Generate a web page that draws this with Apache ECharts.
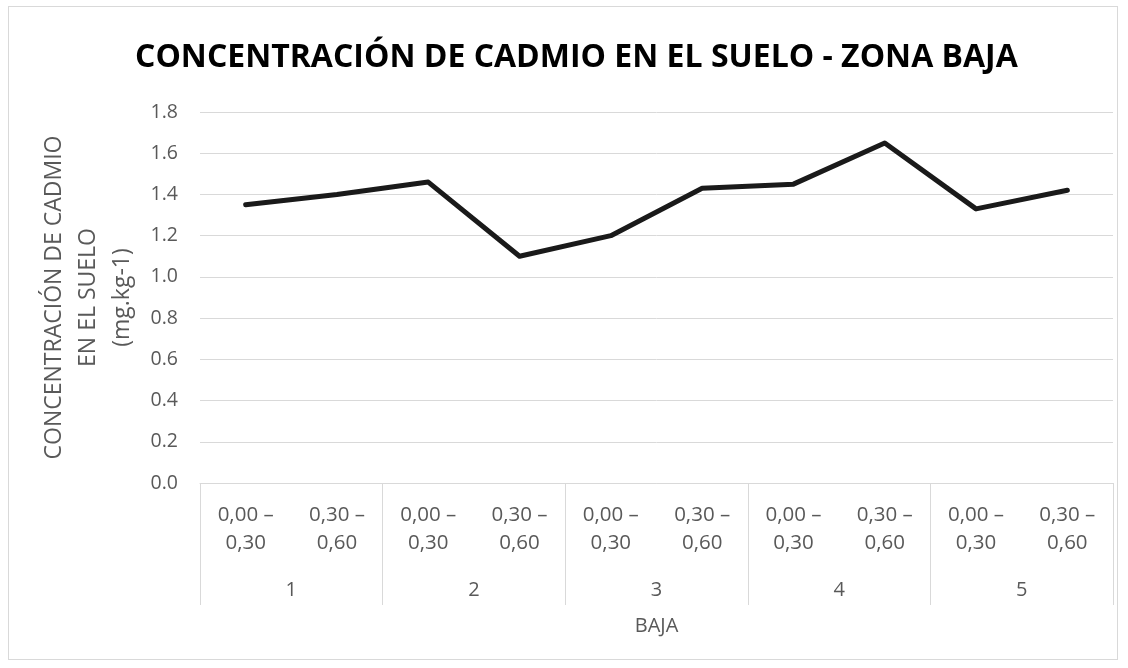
<!DOCTYPE html>
<html>
<head>
<meta charset="utf-8">
<script src="https://cdn.jsdelivr.net/npm/echarts@6/dist/echarts.min.js"></script>
<style>
html,body{margin:0;padding:0;background:#fff;}
#frame{position:absolute;left:8px;top:6px;width:1110px;height:654px;border:1px solid #d9d9d9;box-sizing:border-box;}
#chart{position:absolute;left:0;top:0;width:1128px;height:668px;}
</style>
</head>
<body>
<div id="frame"></div>
<div id="chart"></div>
<script>
var depthLabels = ['0,00 –\n0,30','0,30 –\n0,60','0,00 –\n0,30','0,30 –\n0,60','0,00 –\n0,30','0,30 –\n0,60','0,00 –\n0,30','0,30 –\n0,60','0,00 –\n0,30','0,30 –\n0,60'];
var groups = ['1','2','3','4','5'];
var values = [1.35, 1.40, 1.46, 1.10, 1.20, 1.43, 1.45, 1.65, 1.33, 1.42];
var yTicks = {min: 0, max: 1.8, interval: 0.2};

var txt = '#595959';
var font = '"Open Sans", "Noto Sans", sans-serif';
var chart = echarts.init(document.getElementById('chart'), null, {renderer: 'canvas'});
chart.setOption({
  animation: false,
  backgroundColor: 'transparent',
  title: {
    text: 'CONCENTRACIÓN DE CADMIO EN EL SUELO - ZONA BAJA',
    left: 130, top: 37,
    textStyle: {fontFamily: font, fontWeight: 'bold', fontSize: 32, color: '#000'}
  },
  grid: {left: 200, right: 15, top: 112, bottom: 185},
  xAxis: [{
    type: 'category',
    data: depthLabels,
    boundaryGap: true,
    axisLine: {show: true, lineStyle: {color: '#d9d9d9', width: 1}},
    axisTick: {show: false},
    axisLabel: {interval: 0, margin: 18, fontFamily: font, fontSize: 20.5, lineHeight: 28, color: txt}
  }, {
    type: 'category',
    data: groups,
    position: 'bottom',
    boundaryGap: true,
    axisLine: {show: false},
    axisTick: {show: true, interval: 0, length: 122, lineStyle: {color: '#d9d9d9', width: 1}},
    axisLabel: {interval: 0, margin: 95, fontFamily: font, fontSize: 20, lineHeight: 24, color: txt},
    name: 'BAJA',
    nameLocation: 'middle',
    nameGap: 133,
    nameTextStyle: {fontFamily: font, fontSize: 20, color: txt}
  }],
  yAxis: {
    type: 'value',
    min: yTicks.min, max: yTicks.max, interval: yTicks.interval,
    axisLine: {show: false},
    axisTick: {show: false},
    splitLine: {lineStyle: {color: '#d9d9d9', width: 1}},
    axisLabel: {margin: 22, fontFamily: font, fontSize: 19.5, color: txt,
      formatter: function (v) { return v.toFixed(1); }},
    name: 'CONCENTRACIÓN DE CADMIO\nEN EL SUELO\n(mg.kg-1)',
    nameLocation: 'middle',
    nameGap: 51,
    nameTextStyle: {fontFamily: font, fontSize: 23, lineHeight: 34, color: txt}
  },
  series: [{
    type: 'line',
    xAxisIndex: 0,
    data: values,
    symbol: 'none',
    lineStyle: {color: '#1a1a1a', width: 5, join: 'round', cap: 'round'}
  }]
});
</script>
</body>
</html>
